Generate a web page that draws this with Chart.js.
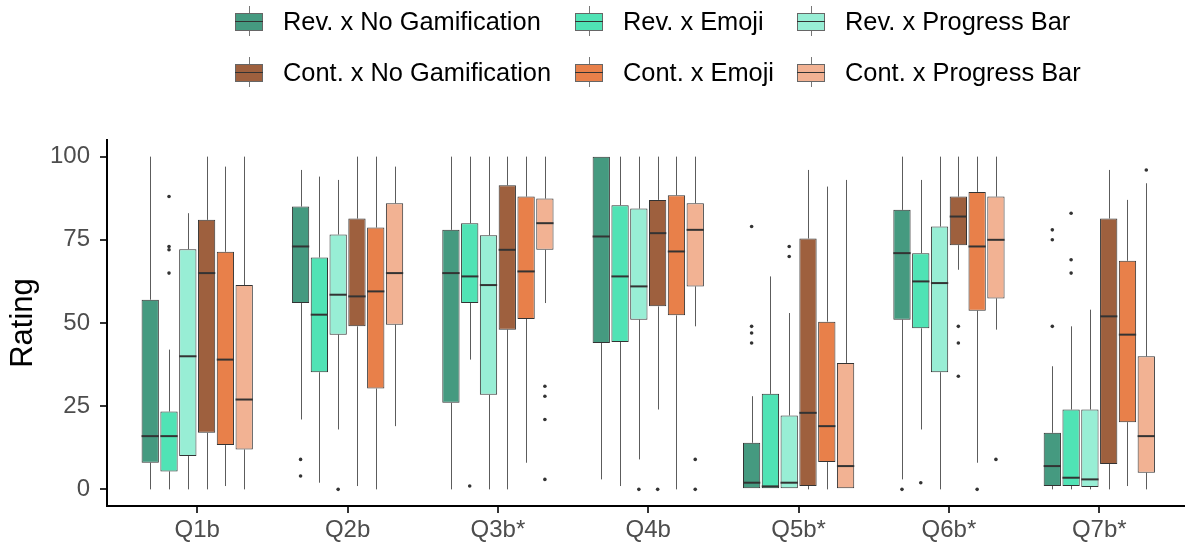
<!DOCTYPE html>
<html>
<head>
<meta charset="utf-8">
<script src="https://cdn.jsdelivr.net/npm/chart.js@4"></script>
<style>
  body { margin: 0; background: #fff; font-family: "Liberation Sans", Arial, sans-serif; }
  #wrap { position: relative; width: 1185px; height: 545px; }
  #legend .item { position: absolute; display: flex; align-items: center; height: 30px; }
  #legend .key { position: relative; width: 28px; height: 30px; margin-right: 20px; }
  #legend .key .wh { position: absolute; left: 13.5px; top: 0; width: 1px; height: 30px; background: #777; }
  #legend .key .bx { position: absolute; left: 0; top: 7px; width: 26px; height: 16px; border: 1px solid #666; }
  #legend .key .md { position: absolute; left: 0; top: 15px; width: 28px; height: 1px; background: #333; }
  #legend .txt { font-size: 25.4px; color: #000; white-space: nowrap; }
</style>
</head>
<body>
<div id="wrap">
  <canvas id="chart" width="1185" height="545"></canvas>
  <div id="legend"></div>
</div>
<script>
// questions on the x axis
const questions = ["Q1b", "Q2b", "Q3b*", "Q4b", "Q5b*", "Q6b*", "Q7b*"];
const yTicks = [0, 25, 50, 75, 100];

const seriesNames = ["Rev. x No Gamification", "Rev. x Emoji", "Rev. x Progress Bar",
                     "Cont. x No Gamification", "Cont. x Emoji", "Cont. x Progress Bar"];
const seriesColors = ["#459a80", "#50e3b5", "#98eed5", "#9e603e", "#e8804a", "#f2b293"];

// [lower whisker, Q1, median, Q3, upper whisker] per question
const revNoGam = [[0, 8, 16, 57, 100], [21, 56, 73, 85, 96], [0, 26, 65, 78, 100], [3, 44, 76, 100, 100],
                  [0, 0, 2, 14, 28], [3, 51, 71, 84, 100], [0, 1, 7, 17, 37]];
const revEmoji = [[0, 5.4, 16, 23.4, 42], [2, 35.2, 52.5, 69.7, 94], [39, 56, 64, 80, 100], [1, 44.3, 64, 85.4, 100],
                  [0, 0, 0.9, 28.7, 64], [18, 48.4, 62.5, 71, 93], [0, 1, 3.5, 24, 49]];
const revProgress = [[0, 10, 40, 72.2, 83], [18, 46.5, 58.5, 76.6, 93], [0, 28.4, 61.4, 76.4, 100], [9, 51, 61, 84.4, 100],
                     [0, 0, 2, 22.2, 53], [0, 35.2, 62, 79, 100], [0, 0.7, 3, 24, 54]];
const contNoGam = [[0, 17, 65, 81, 100], [1, 49, 58, 81.4, 100], [0, 48, 72, 91.4, 100], [24, 55, 77, 87, 100],
                   [0, 1, 23, 75.4, 96], [66, 73.4, 82, 88, 100], [0, 7.6, 52, 81.4, 96]];
const contEmoji = [[1, 13.3, 39, 71.4, 97], [0, 30.3, 59.5, 78.7, 100], [8, 51.2, 65.5, 88, 100], [0, 52.3, 71.5, 88.4, 100],
                   [0, 8.2, 19, 50.4, 91], [8, 53.7, 73, 89.4, 100], [1, 20.2, 46.5, 68.7, 87]];
const contProgress = [[0, 12, 27, 61.4, 100], [19, 49.5, 65, 86, 97], [56, 72, 80, 87.4, 100], [49, 61, 78, 86, 100],
                      [0, 0, 7, 38, 93], [48, 57.4, 75, 88, 100], [0, 5, 16, 40, 92]];

// outliers per question
const revNoGamOut = [[], [9, 4], [], [], [79, 49, 47, 44], [0], [78, 75, 49]];
const revEmojiOut = [[88, 73, 72, 65], [], [1], [], [], [2], [83, 69, 65]];
const revProgressOut = [[], [0], [], [0], [73, 70], [], []];
const contNoGamOut = [[], [], [], [0], [], [49, 44, 34], []];
const contEmojiOut = [[], [], [], [], [], [0], []];
const contProgressOut = [[], [], [31, 28, 21, 3], [9, 0], [], [9], [96]];

const stats = [revNoGam, revEmoji, revProgress, contNoGam, contEmoji, contProgress];
const outliers = [revNoGamOut, revEmojiOut, revProgressOut, contNoGamOut, contEmojiOut, contProgressOut];

// legend (html, laid out like the ggplot legend table)
const legendCols = [235, 575, 797];
const legendRows = [21, 72];
const legendEl = document.getElementById('legend');
seriesNames.forEach((name, i) => {
    const item = document.createElement('div');
    item.className = 'item';
    item.style.left = legendCols[i % 3] + 'px';
    item.style.top = (legendRows[Math.floor(i / 3)] - 15) + 'px';
    item.innerHTML = '<div class="key"><div class="wh"></div><div class="bx" style="background:' + seriesColors[i] +
                     '"></div><div class="md"></div></div><div class="txt">' + name + '</div>';
    legendEl.appendChild(item);
});

// whiskers, medians and outlier points on top of the floating bars
const boxExtras = {
    id: 'boxExtras',
    beforeDatasetsDraw(chart) {
        const ctx = chart.ctx, y = chart.scales.y;
        ctx.save();
        ctx.strokeStyle = 'rgba(51,51,51,0.8)';
        ctx.lineWidth = 1;
        stats.forEach((s, i) => {
            chart.getDatasetMeta(i).data.forEach((bar, j) => {
                const [lo, q1, med, q3, hi] = s[j];
                const x = Math.round(bar.x) + 0.5;
                ctx.beginPath();
                ctx.moveTo(x, y.getPixelForValue(hi));
                ctx.lineTo(x, y.getPixelForValue(q3));
                ctx.moveTo(x, y.getPixelForValue(q1));
                ctx.lineTo(x, y.getPixelForValue(lo));
                ctx.stroke();
            });
        });
        ctx.restore();
    },
    afterDatasetsDraw(chart) {
        const ctx = chart.ctx, y = chart.scales.y;
        ctx.save();
        stats.forEach((s, i) => {
            chart.getDatasetMeta(i).data.forEach((bar, j) => {
                const med = s[j][2];
                const half = bar.width / 2;
                ctx.strokeStyle = '#333';
                ctx.lineWidth = 2;
                ctx.beginPath();
                ctx.moveTo(bar.x - half, y.getPixelForValue(med));
                ctx.lineTo(bar.x + half, y.getPixelForValue(med));
                ctx.stroke();
                ctx.fillStyle = '#333';
                outliers[i][j].forEach(v => {
                    ctx.beginPath();
                    ctx.arc(bar.x, y.getPixelForValue(v), 1.8, 0, Math.PI * 2);
                    ctx.fill();
                });
            });
        });
        ctx.restore();
    }
};

Chart.defaults.font.family = '"Liberation Sans", Arial, sans-serif';

new Chart(document.getElementById('chart'), {
    type: 'bar',
    data: {
        datasets: stats.map((s, i) => ({
            label: seriesNames[i],
            data: s.map((d, j) => ({ x: j + 1, y: [d[1], d[3]] })),
            backgroundColor: seriesColors[i],
            borderColor: '#333',
            borderWidth: 1,
            borderSkipped: false,
            categoryPercentage: 0.75,
            barPercentage: 0.92
        }))
    },
    options: {
        responsive: false,
        animation: false,
        events: [],
        layout: { padding: { top: 140, left: 0, right: 0, bottom: 0 } },
        plugins: { legend: { display: false }, tooltip: { enabled: false } },
        scales: {
            x: {
                type: 'linear',
                offset: false,
                min: 0.4,
                max: 7.57,
                afterBuildTicks: s => { s.ticks = questions.map((q, i) => ({ value: i + 1 })); },
                afterFit: s => { s.height = 39; },
                ticks: {
                    callback: v => questions[v - 1],
                    color: '#4d4d4d',
                    font: { size: 24 },
                    padding: 3,
                    maxRotation: 0,
                    autoSkip: false
                },
                grid: { offset: false, drawOnChartArea: false, drawTicks: true, tickLength: 7, color: '#333', lineWidth: 2 },
                border: { display: true, color: '#000', width: 2 }
            },
            y: {
                min: -5,
                max: 105,
                afterBuildTicks: s => { s.ticks = yTicks.map(v => ({ value: v })); },
                afterFit: s => { s.width = 107; },
                ticks: { color: '#4d4d4d', font: { size: 24 }, padding: 10 },
                grid: { drawOnChartArea: false, drawTicks: true, tickLength: 7, color: '#333', lineWidth: 2 },
                border: { display: true, color: '#000', width: 2 },
                title: { display: true, text: 'Rating', color: '#000', font: { size: 31 }, padding: { top: 5, bottom: 0 } }
            }
        }
    },
    plugins: [boxExtras]
});
</script>
</body>
</html>
